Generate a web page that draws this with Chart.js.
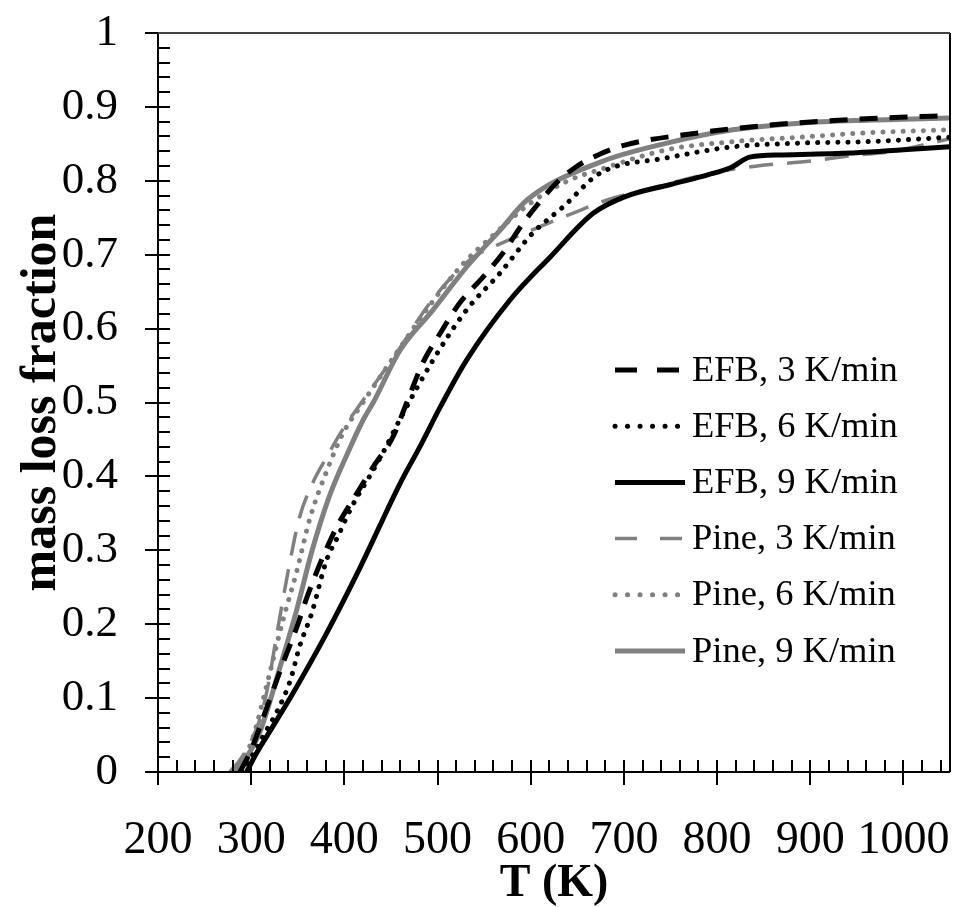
<!DOCTYPE html>
<html>
<head>
<meta charset="utf-8">
<title>mass loss fraction</title>
<script src="https://cdn.jsdelivr.net/npm/chart.js@4.4.1/dist/chart.umd.min.js"></script>
<style>
  body { margin: 0; background: #fff; }
  #wrap { width: 959px; height: 907px; }
</style>
</head>
<body>
<div id="wrap"><canvas id="massLossChart"></canvas></div>
<script>
// axis ticks
var xTicks = [200, 300, 400, 500, 600, 700, 800, 900, 1000];
var yTicks = [0, 0.1, 0.2, 0.3, 0.4, 0.5, 0.6, 0.7, 0.8, 0.9, 1];

// EFB, 3 K/min
var efb3T = [288, 300, 315, 335, 349, 360, 377, 392, 409, 431, 452, 467, 484, 503, 524, 549, 570, 592, 610, 630, 650, 674, 700, 781, 853, 930, 996, 1050];
var efb3Y = [0, 0.03, 0.081, 0.15, 0.196, 0.237, 0.291, 0.332, 0.368, 0.413, 0.453, 0.5, 0.553, 0.594, 0.635, 0.67, 0.702, 0.743, 0.772, 0.8, 0.82, 0.836, 0.848, 0.865, 0.875, 0.882, 0.886, 0.888];

// EFB, 6 K/min
var efb6T = [290, 305, 318, 327, 342, 352, 365, 381, 392, 408, 427, 441, 460, 495, 531, 567, 602, 635, 674, 746, 817, 889, 961, 1050];
var efb6Y = [0, 0.03, 0.06, 0.08, 0.124, 0.17, 0.215, 0.287, 0.316, 0.359, 0.4, 0.431, 0.478, 0.557, 0.625, 0.675, 0.729, 0.765, 0.81, 0.831, 0.846, 0.851, 0.853, 0.859];

// EFB, 9 K/min
var efb9T = [295, 306, 320, 345, 381, 417, 460, 481, 503, 531, 578, 621, 667, 700, 750, 790, 815, 835, 870, 950, 1000, 1050];
var efb9Y = [0, 0.026, 0.055, 0.107, 0.188, 0.277, 0.391, 0.44, 0.494, 0.557, 0.639, 0.697, 0.756, 0.778, 0.795, 0.808, 0.818, 0.832, 0.835, 0.838, 0.842, 0.846];

// Pine, 3 K/min
var pine3T = [277, 290, 309, 317, 328, 342, 352, 366, 381, 398, 420, 456, 492, 527, 545, 564, 610, 645, 682, 720, 760, 800, 843, 902, 945, 990, 1020, 1050];
var pine3Y = [0, 0.02, 0.07, 0.11, 0.19, 0.287, 0.345, 0.391, 0.426, 0.463, 0.503, 0.567, 0.635, 0.685, 0.702, 0.713, 0.738, 0.756, 0.774, 0.787, 0.8, 0.812, 0.82, 0.827, 0.834, 0.84, 0.848, 0.857];

// Pine, 6 K/min
var pine6T = [282, 300, 320, 334, 349, 363, 381, 398, 420, 456, 492, 527, 556, 600, 640, 674, 746, 817, 889, 961, 1050];
var pine6Y = [0, 0.04, 0.134, 0.205, 0.272, 0.343, 0.407, 0.457, 0.5, 0.567, 0.632, 0.687, 0.722, 0.77, 0.8, 0.815, 0.842, 0.853, 0.859, 0.865, 0.869];

// Pine, 9 K/min
var pine9T = [283, 295, 309, 331, 349, 365, 383, 403, 420, 431, 460, 495, 531, 567, 596, 674, 746, 817, 889, 961, 1050];
var pine9Y = [0, 0.02, 0.053, 0.142, 0.22, 0.298, 0.37, 0.43, 0.476, 0.5, 0.571, 0.625, 0.683, 0.733, 0.774, 0.825, 0.851, 0.869, 0.878, 0.882, 0.885];

var GRAY = '#808080';
var FONT = '"Liberation Serif", "Times New Roman", serif';

function pts(t, y) {
    return t.map(function (v, i) { return { x: v, y: y[i] }; });
}

function series(label, t, y, color, width, dash, legendDash, cap) {
    return {
        label: label,
        data: pts(t, y),
        borderColor: color,
        backgroundColor: color,
        borderWidth: width,
        borderDash: dash,
        borderCapStyle: cap || 'butt',
        legendDash: legendDash,
        pointRadius: 0,
        fill: false,
        cubicInterpolationMode: 'monotone'
    };
}

var data = {
    datasets: [
        series('EFB, 3 K/min', efb3T, efb3Y, '#000', 5, [18, 12], [22, 20]),
        series('EFB, 6 K/min', efb6T, efb6Y, '#000', 5, [0.1, 10], [0.1, 12.4], 'round'),
        series('EFB, 9 K/min', efb9T, efb9Y, '#000', 5, [], []),
        series('Pine, 3 K/min', pine3T, pine3Y, GRAY, 3.5, [24, 14], [22, 23]),
        series('Pine, 6 K/min', pine6T, pine6Y, GRAY, 5, [0.1, 10], [0.1, 12.4], 'round'),
        series('Pine, 9 K/min', pine9T, pine9Y, GRAY, 5, [], [])
    ]
};

// inward minor ticks, crossing major ticks and the plot frame
var frameTicks = {
    id: 'frameTicks',
    afterDraw: function (chart) {
        var ctx = chart.ctx, ca = chart.chartArea;
        var xs = chart.scales.x, ys = chart.scales.y;
        function seg(x1, y1, x2, y2) {
            ctx.beginPath(); ctx.moveTo(x1, y1); ctx.lineTo(x2, y2); ctx.stroke();
        }
        ctx.save();
        ctx.strokeStyle = '#000';
        ctx.lineWidth = 2;
        for (var t = 200; t <= 1050; t += 20) {
            var px = Math.round(xs.getPixelForValue(t));
            seg(px, ca.bottom - 12, px, ca.bottom);
        }
        xTicks.forEach(function (v) {
            var px = Math.round(xs.getPixelForValue(v));
            seg(px, ca.bottom - 12, px, ca.bottom + 13);
        });
        for (var i = 0; i <= 50; i++) {
            var py = Math.round(ys.getPixelForValue(i * 0.02));
            seg(ca.left, py, ca.left + 12, py);
        }
        yTicks.forEach(function (v) {
            var py = Math.round(ys.getPixelForValue(v));
            seg(ca.left - 13, py, ca.left + 12, py);
        });
        // frame
        seg(ca.left, ca.top, ca.left, ca.bottom + 1);
        seg(ca.left - 1, ca.bottom, ca.right, ca.bottom);
        seg(ca.right, ca.top, ca.right, ca.bottom);
        ctx.strokeStyle = '#444';
        seg(ca.left, ca.top, ca.right, ca.top);
        ctx.restore();
    }
};

// legend drawn inside the plot, right side
var insideLegend = {
    id: 'insideLegend',
    afterDraw: function (chart) {
        var ctx = chart.ctx;
        var x0 = 613, y0 = 370, step = 56.2, len = 72;
        ctx.save();
        chart.data.datasets.forEach(function (ds, i) {
            var y = y0 + i * step;
            ctx.strokeStyle = ds.borderColor;
            ctx.lineWidth = ds.borderWidth;
            ctx.lineCap = ds.borderCapStyle;
            ctx.setLineDash(ds.legendDash);
            ctx.beginPath();
            ctx.moveTo(x0 + 2, y);
            ctx.lineTo(x0 + len, y);
            ctx.stroke();
            ctx.setLineDash([]);
            ctx.fillStyle = '#000';
            ctx.font = '36.5px ' + FONT;
            ctx.textBaseline = 'middle';
            ctx.textAlign = 'left';
            ctx.fillText(ds.label, 692, y + 1);
        });
        ctx.restore();
    }
};

var ctx = document.getElementById('massLossChart').getContext('2d');
var chart = new Chart(ctx, {
    type: 'line',
    data: data,
    plugins: [frameTicks, insideLegend],
    options: {
        responsive: true,
        maintainAspectRatio: false,
        animation: false,
        devicePixelRatio: 1,
        layout: { padding: { left: 0, right: 9, top: 33, bottom: 0 } },
        plugins: {
            legend: { display: false },
            tooltip: { enabled: false }
        },
        scales: {
            x: {
                type: 'linear',
                min: 200,
                max: 1050,
                afterBuildTicks: function (scale) {
                    scale.ticks = xTicks.map(function (v) { return { value: v }; });
                },
                afterFit: function (scale) {
                    scale.height = 135;
                    scale.paddingLeft = 0;
                    scale.paddingRight = 0;
                },
                grid: { display: false, drawTicks: false },
                border: { display: false },
                ticks: {
                    autoSkip: false,
                    maxRotation: 0,
                    padding: 41,
                    color: '#000',
                    font: { family: FONT, size: 46 },
                    callback: function (v) { return String(v); }
                },
                title: {
                    display: true,
                    text: 'T (K)',
                    color: '#000',
                    padding: { top: 0, bottom: 0 },
                    font: { family: FONT, size: 46, weight: 'bold', lineHeight: 1 }
                }
            },
            y: {
                min: 0,
                max: 1,
                afterBuildTicks: function (scale) {
                    scale.ticks = yTicks.map(function (v) { return { value: v }; });
                },
                afterFit: function (scale) {
                    scale.width = 158;
                    scale.paddingTop = 0;
                    scale.paddingBottom = 0;
                },
                grid: { display: false, drawTicks: false },
                border: { display: false },
                ticks: {
                    padding: 40,
                    color: '#000',
                    font: { family: FONT, size: 45 },
                    callback: function (v) { return String(Math.round(v * 10) / 10); }
                },
                title: {
                    display: true,
                    text: 'mass loss fraction',
                    color: '#000',
                    padding: { top: 17, bottom: 0 },
                    font: { family: FONT, size: 50, weight: 'bold', lineHeight: 1 }
                }
            }
        }
    }
});
</script>
</body>
</html>
